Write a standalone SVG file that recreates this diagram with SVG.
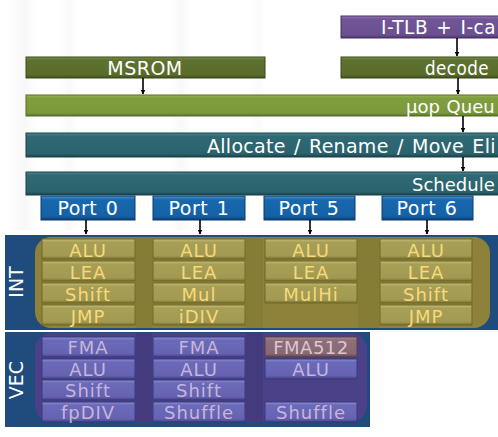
<svg xmlns="http://www.w3.org/2000/svg" width="498" height="437" viewBox="0 0 498 437">
<defs>
<linearGradient id="gOlive" x1="0" y1="0" x2="0" y2="1"><stop offset="0" stop-color="#7d8f4c"/><stop offset="0.14" stop-color="#5e722f"/><stop offset="0.86" stop-color="#596c2b"/><stop offset="1" stop-color="#3e4d1b"/></linearGradient>
<linearGradient id="gGreen" x1="0" y1="0" x2="0" y2="1"><stop offset="0" stop-color="#9cb65c"/><stop offset="0.14" stop-color="#819e3f"/><stop offset="0.86" stop-color="#7c983b"/><stop offset="1" stop-color="#58702a"/></linearGradient>
<linearGradient id="gTeal" x1="0" y1="0" x2="0" y2="1"><stop offset="0" stop-color="#4d8993"/><stop offset="0.14" stop-color="#2f6973"/><stop offset="0.86" stop-color="#2b636d"/><stop offset="1" stop-color="#1a434b"/></linearGradient>
<linearGradient id="gPurple" x1="0" y1="0" x2="0" y2="1"><stop offset="0" stop-color="#937ab3"/><stop offset="0.14" stop-color="#715598"/><stop offset="0.86" stop-color="#6b5091"/><stop offset="1" stop-color="#4a3367"/></linearGradient>
<linearGradient id="gBlue" x1="0" y1="0" x2="0" y2="1"><stop offset="0" stop-color="#4a8fd2"/><stop offset="0.16" stop-color="#1868ae"/><stop offset="0.84" stop-color="#1461a6"/><stop offset="1" stop-color="#0b3e73"/></linearGradient>
<linearGradient id="gGold" x1="0" y1="0" x2="0" y2="1"><stop offset="0" stop-color="#c6be76"/><stop offset="0.16" stop-color="#a89f57"/><stop offset="0.84" stop-color="#a29a52"/><stop offset="1" stop-color="#7a7230"/></linearGradient>
<linearGradient id="gVec" x1="0" y1="0" x2="0" y2="1"><stop offset="0" stop-color="#8e8ed4"/><stop offset="0.16" stop-color="#6b69b9"/><stop offset="0.84" stop-color="#6563b1"/><stop offset="1" stop-color="#434187"/></linearGradient>
<linearGradient id="gFma" x1="0" y1="0" x2="0" y2="1"><stop offset="0" stop-color="#ab8e96"/><stop offset="0.16" stop-color="#8d6e79"/><stop offset="0.84" stop-color="#876874"/><stop offset="1" stop-color="#5e4550"/></linearGradient>
<linearGradient id="gStreak" x1="0" y1="0" x2="1" y2="0"><stop offset="0" stop-color="#e8e8e8" stop-opacity="0"/><stop offset="0.5" stop-color="#e6e6e6" stop-opacity="0.6"/><stop offset="1" stop-color="#e8e8e8" stop-opacity="0"/></linearGradient>
<marker id="arr" viewBox="0 0 10 10" refX="9" refY="5" markerWidth="5" markerHeight="5" orient="auto" markerUnits="userSpaceOnUse"><path d="M0,0 L10,5 L0,10 z" fill="#000"/></marker>
</defs>
<style>
text{font-family:"DejaVu Sans",Verdana,sans-serif;}
.bt{font-size:19px;fill:#ffffff;word-spacing:2px;letter-spacing:0.5px;}
.bs{font-size:18px;fill:#ffffff;word-spacing:1px;}
.pt{font-size:19px;fill:#ffffff;word-spacing:2px;letter-spacing:0.5px;text-anchor:middle;}
.ct{font-size:18px;fill:#f6d97a;letter-spacing:1px;text-anchor:middle;}
.vt{font-size:18px;fill:#c6b5da;letter-spacing:1px;text-anchor:middle;}
.ft{font-size:18px;fill:#dcc6cc;letter-spacing:0.5px;text-anchor:middle;}
.lab{font-size:19px;fill:#ffffff;text-anchor:middle;}
.olive{fill:url(#gOlive);stroke:#3a4818;stroke-width:1;}
.green{fill:url(#gGreen);stroke:#556c27;stroke-width:1;}
.teal{fill:url(#gTeal);stroke:#183f46;stroke-width:1;}
.purple{fill:url(#gPurple);stroke:#46305f;stroke-width:1;}
.port{fill:url(#gBlue);stroke:#0a3a6c;stroke-width:1;}
.gcell{fill:url(#gGold);stroke:#6f6728;stroke-width:1;}
.vcell{fill:url(#gVec);stroke:#3a3878;stroke-width:1;}
.fcell{fill:url(#gFma);stroke:#56404a;stroke-width:1;}
.conn{stroke:#000;stroke-width:1.6;fill:none;marker-end:url(#arr);}
</style>
<rect width="498" height="437" fill="#ffffff"/>
<rect x="8" y="0" width="30" height="230" fill="url(#gStreak)" opacity="0.5"/>
<rect x="60" y="0" width="18" height="230" fill="url(#gStreak)" opacity="0.4"/>
<rect x="170" y="0" width="22" height="230" fill="url(#gStreak)" opacity="0.4"/>
<rect x="250" y="0" width="16" height="130" fill="url(#gStreak)" opacity="0.3"/>

<g id="itlb"><rect class="purple" x="341" y="16" width="170" height="22"/><text class="bt" x="381" y="34" textLength="115" lengthAdjust="spacingAndGlyphs">I-TLB + I-ca</text></g>
<g id="msrom"><rect class="olive" x="26" y="57" width="239" height="21"/><text class="bt" x="145" y="75" text-anchor="middle">MSROM</text></g>
<g id="decode"><rect class="olive" x="341" y="57" width="170" height="21"/><text class="bt" x="425" y="75" textLength="64" lengthAdjust="spacingAndGlyphs">decode</text></g>
<g id="uopq"><rect class="green" x="26" y="95" width="485" height="21"/><text class="bs" x="406" y="113">μop Queu</text></g>
<g id="alloc"><rect class="teal" x="26" y="133" width="485" height="24"/><text class="bt" x="207" y="153" textLength="289" lengthAdjust="spacing">Allocate / Rename / Move Eli</text></g>
<g id="sched"><rect class="teal" x="26" y="172" width="485" height="23"/><text class="bs" x="412" y="191">Schedule</text></g>

<g id="port0"><rect class="port" x="41" y="196" width="94" height="24"/><text class="pt" x="88" y="215">Port 0</text></g>
<g id="port1"><rect class="port" x="153" y="196" width="92" height="24"/><text class="pt" x="199" y="215">Port 1</text></g>
<g id="port5"><rect class="port" x="264" y="196" width="91" height="24"/><text class="pt" x="309" y="215">Port 5</text></g>
<g id="port6"><rect class="port" x="382" y="196" width="91" height="24"/><text class="pt" x="427" y="215">Port 6</text></g>

<g id="int">
<rect x="5" y="235" width="493" height="95" fill="#1f4b7d"/>
<rect x="35" y="237" width="455" height="91" rx="16" fill="#8e823b"/>
<rect x="136" y="237" width="16" height="91" fill="#877c35"/>
<rect x="246" y="237" width="17" height="91" fill="#877c35"/>
<rect x="358" y="237" width="21" height="91" fill="#877c35"/>
<text class="lab" transform="translate(23,282) rotate(-90)">INT</text>
</g>
<g id="int-p0">
<rect class="gcell" x="42" y="239" width="93" height="20"/><text class="ct" x="88" y="257">ALU</text>
<rect class="gcell" x="42" y="261" width="93" height="20"/><text class="ct" x="88" y="279">LEA</text>
<rect class="gcell" x="42" y="283" width="93" height="20"/><text class="ct" x="88" y="301">Shift</text>
<rect class="gcell" x="42" y="305" width="93" height="20"/><text class="ct" x="88" y="323">JMP</text>
</g>
<g id="int-p1">
<rect class="gcell" x="153" y="239" width="92" height="20"/><text class="ct" x="199" y="257">ALU</text>
<rect class="gcell" x="153" y="261" width="92" height="20"/><text class="ct" x="199" y="279">LEA</text>
<rect class="gcell" x="153" y="283" width="92" height="20"/><text class="ct" x="199" y="301">Mul</text>
<rect class="gcell" x="153" y="305" width="92" height="20"/><text class="ct" x="199" y="323">iDIV</text>
</g>
<g id="int-p5">
<rect class="gcell" x="265" y="239" width="92" height="20"/><text class="ct" x="311" y="257">ALU</text>
<rect class="gcell" x="265" y="261" width="92" height="20"/><text class="ct" x="311" y="279">LEA</text>
<rect class="gcell" x="265" y="283" width="92" height="20"/><text class="ct" x="311" y="301">MulHi</text>
</g>
<g id="int-p6">
<rect class="gcell" x="380" y="239" width="92" height="20"/><text class="ct" x="426" y="257">ALU</text>
<rect class="gcell" x="380" y="261" width="92" height="20"/><text class="ct" x="426" y="279">LEA</text>
<rect class="gcell" x="380" y="283" width="92" height="20"/><text class="ct" x="426" y="301">Shift</text>
<rect class="gcell" x="380" y="305" width="92" height="20"/><text class="ct" x="426" y="323">JMP</text>
</g>

<g id="vec">
<rect x="5" y="332" width="365" height="95" fill="#1f4b7d"/>
<rect x="35" y="333" width="332" height="89" rx="16" fill="#4b4188"/>
<rect x="136" y="333" width="16" height="89" fill="#433b7e"/>
<rect x="246" y="333" width="17" height="89" fill="#433b7e"/>
<text class="lab" transform="translate(23,380) rotate(-90)">VEC</text>
</g>
<g id="vec-p0">
<rect class="vcell" x="42" y="337" width="93" height="20"/><text class="vt" x="88" y="354">FMA</text>
<rect class="vcell" x="42" y="359" width="93" height="20"/><text class="vt" x="88" y="376">ALU</text>
<rect class="vcell" x="42" y="380" width="93" height="20"/><text class="vt" x="88" y="397">Shift</text>
<rect class="vcell" x="42" y="402" width="93" height="20"/><text class="vt" x="88" y="419">fpDIV</text>
</g>
<g id="vec-p1">
<rect class="vcell" x="153" y="337" width="92" height="20"/><text class="vt" x="199" y="354">FMA</text>
<rect class="vcell" x="153" y="359" width="92" height="20"/><text class="vt" x="199" y="376">ALU</text>
<rect class="vcell" x="153" y="380" width="92" height="20"/><text class="vt" x="199" y="397">Shift</text>
<rect class="vcell" x="153" y="402" width="92" height="20"/><text class="vt" x="199" y="419">Shuffle</text>
</g>
<g id="vec-p5">
<rect class="fcell" x="265" y="337" width="92" height="20"/><text class="ft" x="311" y="354">FMA512</text>
<rect class="vcell" x="265" y="359" width="92" height="20"/><text class="vt" x="311" y="376">ALU</text>
<rect class="vcell" x="265" y="402" width="92" height="20"/><text class="vt" x="311" y="419">Shuffle</text>
</g>

<g id="connectors">
<line class="conn" x1="457" y1="38" x2="457" y2="56"/>
<line class="conn" x1="143" y1="78" x2="143" y2="94"/>
<line class="conn" x1="458" y1="78" x2="458" y2="94"/>
<line class="conn" x1="463" y1="116" x2="463" y2="132"/>
<line class="conn" x1="463" y1="157" x2="463" y2="171"/>
<line class="conn" x1="86" y1="220" x2="86" y2="234"/>
<line class="conn" x1="200" y1="220" x2="200" y2="234"/>
<line class="conn" x1="310" y1="220" x2="310" y2="234"/>
<line class="conn" x1="427" y1="220" x2="427" y2="234"/>
</g>
</svg>
